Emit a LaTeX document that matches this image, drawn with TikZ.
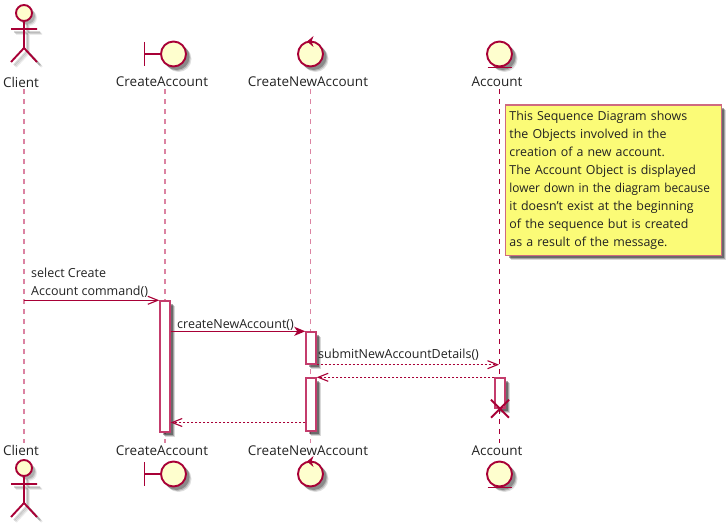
\documentclass[tikz,border=0pt]{standalone}
\usepackage{fontspec}
\setmainfont{Open Sans}
\usetikzlibrary{arrows.meta,shadows}
\definecolor{umlred}{HTML}{A80036}
\definecolor{umlpink}{HTML}{DC83A2}
\definecolor{umlbar}{HTML}{C43C6C}
\definecolor{umlfill}{HTML}{FEFECE}
\definecolor{notefill}{HTML}{FBFB77}
\definecolor{noteline}{HTML}{CF6A80}
\definecolor{umltext}{HTML}{222222}
\tikzset{
  softshadow/.style={drop shadow={shadow xshift=5pt,shadow yshift=-5pt,fill=black,opacity=.15},
    drop shadow={shadow xshift=4pt,shadow yshift=-4pt,fill=black,opacity=.25},
    drop shadow={shadow xshift=3pt,shadow yshift=-3pt,fill=black,opacity=.35}},
  partlabel/.style={font=\fontsize{13.5}{16}\selectfont, text=umltext, inner sep=0pt, minimum height=14pt},
  msglabel/.style={font=\fontsize{12.5}{18}\selectfont, text=umltext, inner sep=0pt, anchor=west, align=left},
  lifeline/.style={umlpink, line width=1.9pt, dash pattern=on 5pt off 5pt},
  lifelinedark/.style={umlred, line width=1pt, dash pattern=on 5pt off 5pt},
  actbar/.style={draw=umlbar, fill=white, line width=1.4pt, minimum width=10pt, inner sep=0pt, softshadow},
  openmsg/.style={umlred, line width=1.1pt, -{Straight Barb[length=10pt,width=8pt]}},
  fillmsg/.style={umlred, line width=1.4pt, -{Stealth[length=11pt,width=9pt,inset=3pt]}},
  dotmsg/.style={umlred, line width=1.1pt, dash pattern=on 2pt off 2pt,
    -{Straight Barb[length=10pt,width=8pt]}},
  umlline/.style={draw=umlred, line width=1.9pt},
  umlshape/.style={umlline, fill=umlfill},
  % ---- participant figures, drawn round their own origin ----
  pics/actorfig/.style={code={
    \foreach \off/\op in {5/.08,4/.12,3/.16} {
      \begin{scope}[shift={(\off,\off)}, black, opacity=\op, line width=1.9pt]
        \draw (-13,16) -- (13,16) (0,8) -- (0,35) (-13,49) -- (0,35) -- (13,49);
        \fill (0,0) circle (8);
      \end{scope}
    }
    \draw[umlline] (-13,16) -- (13,16) (0,8) -- (0,35) (-13,49) -- (0,35) -- (13,49);
    \draw[umlshape] (0,0) circle (8);
  }},
  pics/boundaryfig/.style={code={
    \foreach \off/\op in {5/.12,4/.18,3/.25} {
      \fill[black, opacity=\op] (\off,\off) circle (13);
    }
    \draw[umlline] (-29,-12) -- (-29,12) (-29,0) -- (-12,0);
    \draw[umlshape] (0,0) circle (12.5);
  }},
  pics/controlfig/.style={code={
    \foreach \off/\op in {5/.12,4/.18,3/.25} {
      \fill[black, opacity=\op] (\off,\off) circle (13);
    }
    \draw[umlshape] (0,0) circle (12.5);
    \fill[umlred] (-3.5,-12.5) -- (3,-18) -- (1,-12.5) -- (3,-7) -- cycle;
  }},
  pics/entityfig/.style={code={
    \foreach \off/\op in {5/.12,4/.18,3/.25} {
      \fill[black, opacity=\op] (\off,\off) circle (13);
    }
    \draw[umlshape] (0,0) circle (12.5);
    \draw[umlline] (-12,13.5) -- (12,13.5);
  }},
}
\begin{document}
\begin{tikzpicture}[x=1pt,y=-1pt]
\useasboundingbox (0,0) rectangle (726,524);
% ---- participants, top and bottom ----
\foreach \nm/\px/\lab in {client/21/Client, create/162/CreateAccount,
                          newacc/308/CreateNewAccount, account/497/Account} {
  \node[partlabel] (\nm top) at (\px,82) {\lab};
  \node[partlabel] (\nm bot) at (\px,450.5) {\lab};
}
\pic at (24,13) {actorfig};
\pic at (24,468) {actorfig};
\pic at (173.5,54) {boundaryfig};
\pic at (173.5,474) {boundaryfig};
\pic at (310.5,54) {controlfig};
\pic at (310.5,474) {controlfig};
\pic at (499.5,54) {entityfig};
\pic at (499.5,474) {entityfig};
% ---- lifelines ----
\coordinate (clientline) at (24,0);
\coordinate (createline) at (165,0);
\coordinate (newaccline) at (310.5,0);
\coordinate (accountline) at (499,0);
\draw[lifeline] (clientline |- clienttop.south) -- (clientline |- clientbot.north);
\draw[lifeline] (createline |- createtop.south) -- (createline |- createbot.north);
\draw[lifeline] (newaccline |- newacctop.south) -- (newaccline |- newaccbot.north);
\draw[lifelinedark] (accountline |- accounttop.south) -- (accountline |- accountbot.north);
% ---- activations ----
\node[actbar, minimum height=131pt] (createbar) at (165,366.5) {};
\node[actbar, minimum height=32pt] (newbarA) at (311,348) {};
\node[actbar, minimum height=53pt] (newbarB) at (311,404.5) {};
\node[actbar, minimum height=30pt] (accountbar) at (500,393) {};
\draw[umlred, line width=2pt] (accountbar.south) ++(-9,-9) -- ++(18,18) ++(-18,0) -- ++(18,-18);
% ---- messages ----
\coordinate (backline) at (0,422.5);
\draw[openmsg] (clientline |- createbar.north) -- (createbar.north west);
\draw[fillmsg] (createbar.east |- newbarA.north) -- (newbarA.north west);
\draw[dotmsg] (newbarA.south east) -- (accountline |- newbarA.south);
\draw[dotmsg] (accountbar.north west) -- (newbarB.north east);
\draw[dotmsg] (newbarB.west |- backline) -- (createbar.east |- backline);
\node[msglabel] (selectlab) at (31,283) {select Create\\Account command()};
\node[msglabel] (createlab) at (177,325) {createNewAccount()};
\node[msglabel] (submitlab) at (318,355) {submitNewAccountDetails()};
% ---- note ----
\node[draw=noteline, fill=notefill, line width=1.4pt, softshadow, anchor=north west,
      minimum width=215.5pt, minimum height=150pt, inner sep=3.5pt, text width=208pt,
      align=left, text=umltext, font=\fontsize{12.4}{17.9}\selectfont] (accountnote) at (505,104.5)
  {This Sequence Diagram shows\\
   the Objects involved in the\\
   creation of a new account.\\
   The Account Object is displayed\\
   \scalebox{.955}[1]{lower down in the diagram because}\\
   it doesn't exist at the beginning\\
   of the sequence but is created\\
   as a result of the message.};
\end{tikzpicture}
\end{document}
